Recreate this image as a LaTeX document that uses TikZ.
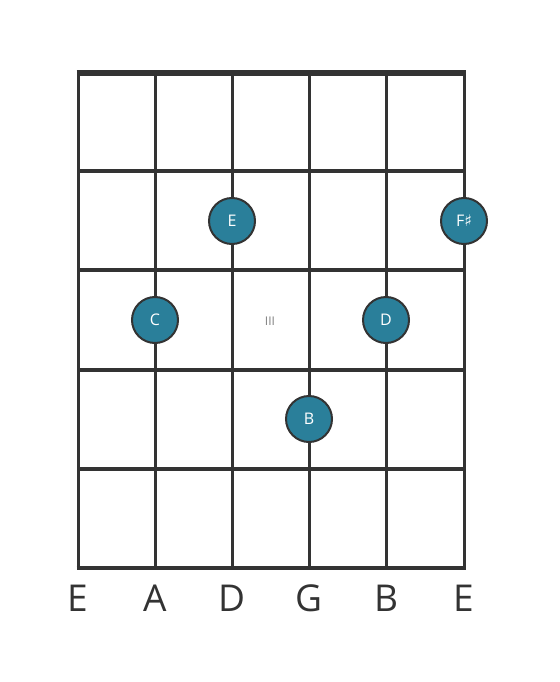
\documentclass[tikz,border=0pt]{standalone}
\usepackage{fontspec}
\setmainfont{Open Sans}
\newfontfamily\symfont{DejaVu Sans}
\usepackage{tikz}
\definecolor{dotblue}{HTML}{2A7F9A}
\definecolor{gridgray}{HTML}{333333}
\tikzset{
  note/.style={circle, draw=gridgray, line width=2pt, fill=dotblue, minimum size=46pt, inner sep=0pt, text=white, font=\fontsize{16}{16}\selectfont},
  strname/.style={text=gridgray, font=\fontsize{37}{37}\selectfont, inner sep=0pt}
}

\begin{document}
\begin{tikzpicture}[x=1pt, y=-1pt]
    \useasboundingbox (0,0) rectangle (559,682);

    % strings and frets
    \foreach \x in {78,155,232,309,386,464}
        \draw[gridgray, line width=3pt] (\x,72) -- (\x,568);
    \foreach \y in {171,270,370,469}
        \draw[gridgray, line width=4pt] (78,\y) -- (464,\y);
    \draw[gridgray, line width=5.5pt] (76.5,73) -- (465.5,73);
    \draw[gridgray, line width=4.5pt] (76.5,568) -- (465.5,568);

    \node[text=gray, font=\fontsize{12}{12}\selectfont] (fretIII) at (270,321) {III};

    \node[note] (E1) at (232,221) {E};
    \node[note] (Fs1) at (464,221) {F{\symfont\char"266F}};
    \node[note] (C1) at (155,320) {C};
    \node[note] (D1) at (386,320) {D};
    \node[note] (B1) at (309,419) {B};

    \node[strname] (sE1) at (78,598) {E};
    \node[strname] (sA) at (155,598) {A};
    \node[strname] (sD) at (232,598) {D};
    \node[strname] (sG) at (309,598) {G};
    \node[strname] (sB) at (386,598) {B};
    \node[strname] (sE2) at (464,598) {E};
\end{tikzpicture}
\end{document}
